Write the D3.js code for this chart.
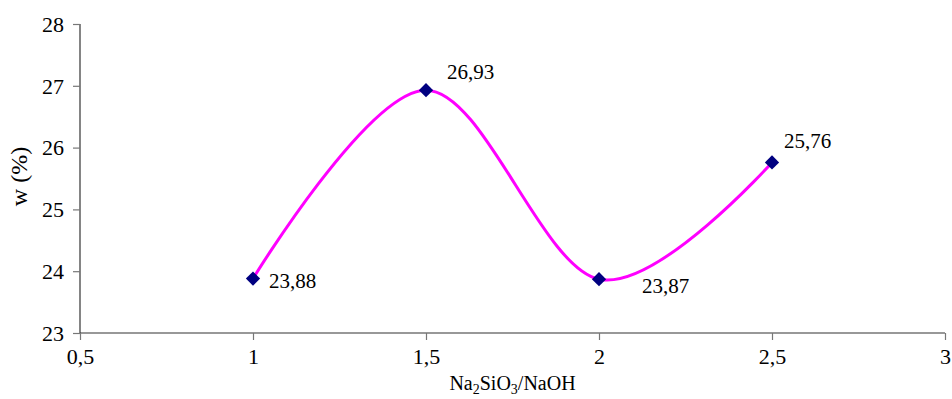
<!DOCTYPE html>
<html>
<head>
<meta charset="utf-8">
<script src="https://cdn.jsdelivr.net/npm/d3@7"></script>
<style>
  html, body { margin: 0; padding: 0; background: #fff; }
  svg { display: block; }
  text { font-family: "Liberation Serif", "DejaVu Serif", serif; fill: #000; }
</style>
</head>
<body>
<svg id="chart" width="952" height="399"></svg>
<script>
// ---- data ----
const ratios = [1, 1.5, 2, 2.5];
const wValues = [23.88, 26.93, 23.87, 25.76];
const valueLabels = ["23,88", "26,93", "23,87", "25,76"];
const xTicks = [0.5, 1, 1.5, 2, 2.5, 3];
const xTickLabels = ["0,5", "1", "1,5", "2", "2,5", "3"];
const yTicks = [23, 24, 25, 26, 27, 28];
const yTickLabels = ["23", "24", "25", "26", "27", "28"];

// label placement (layout, not data)
const labelOffsets = [[16, 9], [21, -11], [43, 14], [12, -14]];

const svg = d3.select("#chart");
const margin = { left: 80, right: 7, top: 24, bottom: 66 };
const W = 952, H = 399;
const x = d3.scaleLinear().domain([0.5, 3]).range([margin.left, W - margin.right]);
const y = d3.scaleLinear().domain([23, 28]).range([H - margin.bottom, margin.top]);

// y axis
const yAxis = d3.axisLeft(y).tickValues(yTicks).tickFormat((d, i) => yTickLabels[i]).tickSize(7).tickPadding(9);
const gy = svg.append("g").attr("transform", `translate(${x(0.5)},0)`).call(yAxis);
gy.select(".domain").attr("stroke", "#333").attr("stroke-width", 1.2).attr("d", `M0,${y(28)}V${y(23)}`);
gy.selectAll(".tick line").attr("stroke", "#777").attr("stroke-width", 1.2);
gy.selectAll(".tick text").style("font-size", "22px").style("font-family", "Liberation Serif").attr("dy", "0.33em");

// x axis
const xAxis = d3.axisBottom(x).tickValues(xTicks).tickFormat((d, i) => xTickLabels[i]).tickSize(7).tickPadding(8);
const gx = svg.append("g").attr("transform", `translate(0,${y(23)})`).call(xAxis);
gx.select(".domain").attr("stroke", "#333").attr("stroke-width", 1.2).attr("d", `M${x(0.5)},0H${x(3)}`);
gx.selectAll(".tick line").attr("stroke", "#777").attr("stroke-width", 1.2);
gx.selectAll(".tick text").style("font-size", "22px").style("font-family", "Liberation Serif");

// axis titles
const xt = svg.append("text")
  .attr("x", (x(0.5) + x(3)) / 2).attr("y", 390)
  .attr("text-anchor", "middle").style("font-size", "20px");
xt.append("tspan").text("Na");
xt.append("tspan").text("2").attr("dy", 4).style("font-size", "14px");
xt.append("tspan").text("SiO").attr("dy", -4);
xt.append("tspan").text("3").attr("dy", 4).style("font-size", "14px");
xt.append("tspan").text("/NaOH").attr("dy", -4);

svg.append("text")
  .attr("transform", `translate(27,${(y(23) + y(28)) / 2 - 2}) rotate(-90)`)
  .attr("text-anchor", "middle").style("font-size", "24px")
  .text("w (%)");

// line
const pts = ratios.map((r, i) => [r, wValues[i]]);
const line = d3.line().x(d => x(d[0])).y(d => y(d[1])).curve(d3.curveCardinal.tension(0));
svg.append("path").datum(pts).attr("d", line)
  .attr("fill", "none").attr("stroke", "#FF00FF").attr("stroke-width", 3);

// markers
const sym = d3.symbol().type(d3.symbolDiamond2).size(130);
svg.selectAll(".mk").data(pts).enter().append("path")
  .attr("transform", d => `translate(${x(d[0])},${y(d[1])})`)
  .attr("d", sym).attr("fill", "#000080");

// value labels
svg.selectAll(".lbl").data(pts).enter().append("text")
  .attr("x", (d, i) => x(d[0]) + labelOffsets[i][0])
  .attr("y", (d, i) => y(d[1]) + labelOffsets[i][1])
  .style("font-size", "21px")
  .text((d, i) => valueLabels[i]);
</script>
</body>
</html>
